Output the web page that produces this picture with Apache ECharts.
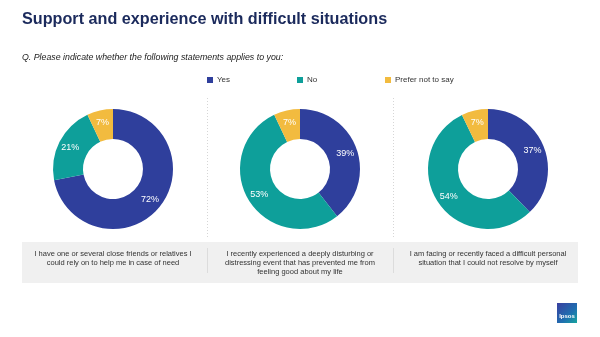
<!DOCTYPE html>
<html><head><meta charset="utf-8">
<script src="https://cdn.jsdelivr.net/npm/echarts@6/dist/echarts.min.js"></script>
<style>html,body{margin:0;padding:0;background:#fff}#c{width:600px;height:337px}</style>
</head><body><div id="c"></div>
<script>
const categories = ['Yes', 'No', 'Prefer not to say'];
const statements = [
  'I have one or several close friends or relatives I\ncould rely on to help me in case of need',
  'I recently experienced a deeply disturbing or\ndistressing event that has prevented me from\nfeeling good about my life',
  'I am facing or recently faced a difficult personal\nsituation that I could not resolve by myself'
];
const values1 = [72, 21, 7];
const values2 = [39, 53, 7];
const values3 = [37, 54, 7];
const allValues = [values1, values2, values3];

const colors = ['#2f3f9c', '#0e9f9a', '#f2bb3f'];
const FONT = '"Liberation Sans", Arial, sans-serif';
const centersX = [113, 300, 488];
const centerY = 169;

const chart = echarts.init(document.getElementById('c'), null, {renderer: 'canvas'});

const series = allValues.map((vals, i) => ({
  type: 'pie',
  center: [centersX[i], centerY],
  radius: [30, 60],
  startAngle: 90,
  clockwise: true,
  silent: true,
  label: {show: true, position: 'inside', formatter: '{c}%', color: '#fff', fontSize: 9, fontFamily: FONT},
  labelLine: {show: false},
  itemStyle: {borderWidth: 0},
  data: categories.map((c, j) => ({name: c, value: vals[j], itemStyle: {color: colors[j]}}))
}));

const legendLefts = [207, 297, 385];
const legends = categories.map((c, j) => ({
  data: [c], left: legendLefts[j], top: 76, padding: 0, icon: 'rect', itemWidth: 6, itemHeight: 6, itemGap: 5,
  textStyle: {fontSize: 8, color: '#333', fontFamily: FONT, padding: [0, 0, 0, -1]}, selectedMode: false
}));

const graphics = [
  {type: 'text', x: 22, y: 20, style: {text: 'Support and experience with difficult situations', font: 'bold 16.2px ' + FONT, fill: '#1b2a5c', textVerticalAlign: 'middle'}},
  {type: 'text', x: 22, y: 58, style: {text: 'Q. Please indicate whether the following statements applies to you:', font: 'italic 8.8px ' + FONT, fill: '#222', textVerticalAlign: 'middle'}},
  {type: 'line', shape: {x1: 207.5, y1: 98, x2: 207.5, y2: 238}, style: {stroke: '#d6d6d6', lineWidth: 1, lineDash: [1, 2]}},
  {type: 'line', shape: {x1: 393.5, y1: 98, x2: 393.5, y2: 238}, style: {stroke: '#d6d6d6', lineWidth: 1, lineDash: [1, 2]}},
  {type: 'rect', shape: {x: 22, y: 242, width: 556, height: 41}, style: {fill: '#f0f0f0'}},
  {type: 'line', shape: {x1: 207.5, y1: 248, x2: 207.5, y2: 273}, style: {stroke: '#dcdcdc', lineWidth: 1}},
  {type: 'line', shape: {x1: 393.5, y1: 248, x2: 393.5, y2: 273}, style: {stroke: '#dcdcdc', lineWidth: 1}},
  {type: 'rect', shape: {x: 557, y: 303, width: 20, height: 20}, style: {fill: new echarts.graphic.LinearGradient(0, 0, 1, 1, [{offset: 0, color: '#3a3fa0'}, {offset: 0.6, color: '#1f6fb0'}, {offset: 1, color: '#17a59e'}])}},
  {type: 'text', x: 567, y: 316, style: {text: 'Ipsos', font: 'bold 6px ' + FONT, fill: '#fff', textAlign: 'center', textVerticalAlign: 'middle'}}
];
statements.forEach((s, i) => {
  graphics.push({type: 'text', x: centersX[i], y: 249.5, style: {text: s, font: '7.5px ' + FONT, fill: '#333', textAlign: 'center', lineHeight: 9}});
});

chart.setOption({
  animation: false,
  backgroundColor: '#fff',
  color: colors,
  legend: legends,
  series: series,
  graphic: graphics
});
</script></body></html>
